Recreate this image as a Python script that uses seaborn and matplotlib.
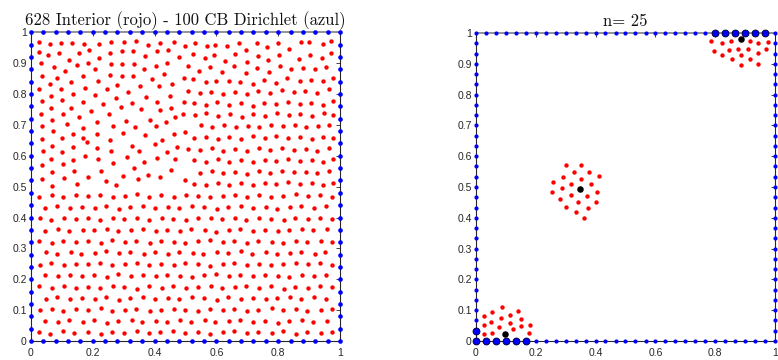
import matplotlib
matplotlib.use("Agg")
import matplotlib.pyplot as plt
import seaborn as sns
import pandas as pd

# ---------------- data ----------------
title_left = "628 Interior (rojo) - 100 CB Dirichlet (azul)"
title_right = "n= 25"
xticks = [0, 0.2, 0.4, 0.6, 0.8, 1]
xtick_labels = ["0", "0.2", "0.4", "0.6", "0.8", "1"]
yticks = [0, 0.1, 0.2, 0.3, 0.4, 0.5, 0.6, 0.7, 0.8, 0.9, 1]
ytick_labels = ["0", "0.1", "0.2", "0.3", "0.4", "0.5", "0.6", "0.7", "0.8", "0.9", "1"]

# boundary nodes (left panel: 25 intervals per side, right panel: 30)
bnd_left = [0.00, 0.04, 0.08, 0.12, 0.16, 0.20, 0.24, 0.28, 0.32, 0.36, 0.40, 0.44, 0.48,
            0.52, 0.56, 0.60, 0.64, 0.68, 0.72, 0.76, 0.80, 0.84, 0.88, 0.92, 0.96, 1.00]
bnd_right = [0.000, 0.033, 0.067, 0.100, 0.133, 0.167, 0.200, 0.233, 0.267, 0.300, 0.333,
             0.367, 0.400, 0.433, 0.467, 0.500, 0.533, 0.567, 0.600, 0.633, 0.667, 0.700,
             0.733, 0.767, 0.800, 0.833, 0.867, 0.900, 0.933, 0.967, 1.000]

# interior nodes, upper-left part
pts_upper_left = [
    (0.026, 0.967), (0.063, 0.962), (0.098, 0.964), (0.134, 0.966), (0.172, 0.963), (0.220, 0.961),
    (0.258, 0.970), (0.300, 0.969), (0.340, 0.971), (0.379, 0.958), (0.416, 0.966), (0.463, 0.969),
    (0.497, 0.955),
    (0.026, 0.935), (0.056, 0.927), (0.092, 0.932), (0.155, 0.932), (0.189, 0.942), (0.221, 0.918),
    (0.257, 0.933), (0.296, 0.939), (0.331, 0.941), (0.370, 0.923), (0.408, 0.940), (0.442, 0.944),
    (0.479, 0.919),
    (0.033, 0.899), (0.073, 0.888), (0.123, 0.910), (0.111, 0.875), (0.150, 0.893), (0.185, 0.901),
    (0.208, 0.880), (0.258, 0.897), (0.296, 0.896), (0.333, 0.898), (0.366, 0.882), (0.404, 0.892),
    (0.440, 0.902),
    (0.036, 0.858), (0.085, 0.851), (0.128, 0.838), (0.167, 0.859), (0.217, 0.842), (0.257, 0.862),
    (0.295, 0.857), (0.329, 0.858), (0.392, 0.850), (0.432, 0.865), (0.495, 0.853),
    (0.062, 0.832), (0.027, 0.815), (0.098, 0.815), (0.176, 0.820), (0.247, 0.817), (0.280, 0.828),
    (0.314, 0.808), (0.353, 0.827), (0.415, 0.825), (0.455, 0.832),
    (0.064, 0.794), (0.137, 0.800), (0.208, 0.796), (0.275, 0.788), (0.036, 0.776), (0.100, 0.781),
    (0.168, 0.774), (0.232, 0.767), (0.326, 0.770), (0.372, 0.791), (0.409, 0.774), (0.451, 0.794),
    (0.495, 0.774),
    (0.066, 0.756), (0.129, 0.755), (0.193, 0.745), (0.103, 0.736), (0.032, 0.734), (0.254, 0.734),
    (0.290, 0.757), (0.356, 0.752), (0.418, 0.748), (0.454, 0.756), (0.156, 0.724), (0.385, 0.715),
    (0.492, 0.735),
    (0.068, 0.715), (0.213, 0.709), (0.036, 0.698), (0.118, 0.704), (0.169, 0.689), (0.266, 0.695),
    (0.307, 0.714), (0.338, 0.694), (0.406, 0.697), (0.436, 0.708), (0.467, 0.725),
    (0.070, 0.680), (0.136, 0.670), (0.215, 0.670), (0.255, 0.651), (0.298, 0.675), (0.369, 0.666),
    (0.425, 0.651), (0.463, 0.671), (0.497, 0.677), (0.036, 0.654), (0.099, 0.656), (0.170, 0.656),
    (0.069, 0.633), (0.136, 0.629), (0.181, 0.645), (0.038, 0.615), (0.100, 0.612), (0.214, 0.626),
    (0.260, 0.614), (0.327, 0.633), (0.351, 0.617), (0.401, 0.639), (0.439, 0.613), (0.472, 0.630),
    (0.065, 0.589), (0.137, 0.586), (0.216, 0.590), (0.174, 0.600), (0.310, 0.595), (0.103, 0.572),
    (0.037, 0.571), (0.264, 0.577), (0.367, 0.581), (0.409, 0.593), (0.467, 0.591), (0.226, 0.551),
    (0.335, 0.560),
    (0.069, 0.548), (0.139, 0.550), (0.186, 0.530), (0.107, 0.529), (0.036, 0.525), (0.244, 0.517),
    (0.299, 0.535), (0.346, 0.524), (0.378, 0.538), (0.418, 0.530), (0.452, 0.553), (0.498, 0.523),
    (0.275, 0.505), (0.148, 0.509), (0.068, 0.503),
]

# interior nodes, upper-right part (rows from top)
upper_right_x = [
    [0.531, 0.569, 0.597, 0.635, 0.672, 0.697, 0.731, 0.765, 0.800, 0.835, 0.873, 0.901, 0.944, 0.971],
    [0.523, 0.562, 0.592, 0.627, 0.659, 0.698, 0.734, 0.768, 0.803, 0.867, 0.903, 0.941, 0.971],
    [0.509, 0.545, 0.578, 0.617, 0.657, 0.695, 0.733, 0.770, 0.806, 0.842, 0.880, 0.918, 0.955],
    [0.525, 0.566, 0.600, 0.642, 0.678, 0.718, 0.754, 0.793, 0.830, 0.870, 0.906, 0.946, 0.977],
    [0.508, 0.546, 0.584, 0.622, 0.660, 0.698, 0.736, 0.774, 0.812, 0.850, 0.888, 0.926, 0.964],
    [0.527, 0.565, 0.603, 0.641, 0.679, 0.717, 0.755, 0.793, 0.831, 0.869, 0.907, 0.945, 0.978],
    [0.530, 0.568, 0.606, 0.644, 0.682, 0.720, 0.758, 0.796, 0.834, 0.872, 0.910, 0.948, 0.979],
    [0.549, 0.587, 0.625, 0.663, 0.701, 0.739, 0.777, 0.815, 0.853, 0.891, 0.929, 0.966],
    [0.527, 0.566, 0.604, 0.642, 0.680, 0.718, 0.756, 0.794, 0.832, 0.870, 0.908, 0.946, 0.978],
    [0.508, 0.547, 0.585, 0.623, 0.661, 0.699, 0.737, 0.775, 0.813, 0.851, 0.889, 0.927, 0.964],
    [0.528, 0.565, 0.604, 0.641, 0.680, 0.717, 0.756, 0.793, 0.832, 0.869, 0.908, 0.945, 0.977],
    [0.547, 0.585, 0.623, 0.661, 0.699, 0.737, 0.775, 0.813, 0.851, 0.889, 0.927, 0.965],
    [0.528, 0.566, 0.604, 0.642, 0.680, 0.718, 0.756, 0.794, 0.832, 0.870, 0.908, 0.946, 0.978],
]
upper_right_y = [
    [0.964, 0.957, 0.960, 0.956, 0.965, 0.944, 0.964, 0.951, 0.965, 0.946, 0.967, 0.967, 0.961, 0.972],
    [0.929, 0.918, 0.927, 0.907, 0.929, 0.905, 0.924, 0.909, 0.927, 0.914, 0.925, 0.918, 0.932],
    [0.891, 0.875, 0.887, 0.872, 0.891, 0.868, 0.885, 0.872, 0.892, 0.880, 0.885, 0.880, 0.889],
    [0.848, 0.840, 0.843, 0.842, 0.838, 0.832, 0.846, 0.836, 0.851, 0.843, 0.846, 0.842, 0.853],
    [0.809, 0.803, 0.808, 0.801, 0.806, 0.799, 0.809, 0.804, 0.813, 0.806, 0.809, 0.804, 0.815],
    [0.771, 0.766, 0.773, 0.764, 0.770, 0.762, 0.772, 0.767, 0.775, 0.768, 0.771, 0.766, 0.777],
    [0.731, 0.737, 0.729, 0.735, 0.727, 0.736, 0.730, 0.738, 0.732, 0.735, 0.729, 0.739, 0.733],
    [0.699, 0.694, 0.700, 0.692, 0.698, 0.693, 0.701, 0.695, 0.699, 0.692, 0.697, 0.700],
    [0.657, 0.662, 0.655, 0.661, 0.654, 0.663, 0.658, 0.664, 0.656, 0.660, 0.653, 0.661, 0.658],
    [0.622, 0.619, 0.625, 0.617, 0.623, 0.616, 0.624, 0.618, 0.626, 0.620, 0.623, 0.617, 0.625],
    [0.585, 0.581, 0.588, 0.580, 0.586, 0.579, 0.587, 0.582, 0.589, 0.583, 0.586, 0.580, 0.588],
    [0.544, 0.551, 0.543, 0.549, 0.542, 0.550, 0.545, 0.552, 0.546, 0.549, 0.543, 0.551],
    [0.510, 0.506, 0.513, 0.505, 0.511, 0.504, 0.512, 0.507, 0.514, 0.508, 0.511, 0.505, 0.513],
]

# interior nodes, lower half (rows from bottom, full width)
lower_x = [
    [0.027, 0.063, 0.104, 0.140, 0.183, 0.226, 0.262, 0.300, 0.344, 0.381, 0.418, 0.460, 0.498,
     0.541, 0.578, 0.622, 0.657, 0.700, 0.735, 0.779, 0.815, 0.858, 0.893, 0.937, 0.974],
    [0.045, 0.088, 0.124, 0.167, 0.203, 0.246, 0.281, 0.326, 0.360, 0.404, 0.439, 0.483,
     0.519, 0.562, 0.597, 0.641, 0.676, 0.720, 0.756, 0.799, 0.834, 0.878, 0.913, 0.957],
    [0.028, 0.068, 0.105, 0.147, 0.184, 0.226, 0.263, 0.305, 0.341, 0.384, 0.420, 0.463, 0.500,
     0.542, 0.579, 0.621, 0.657, 0.700, 0.736, 0.779, 0.816, 0.858, 0.894, 0.937, 0.973],
    [0.048, 0.085, 0.127, 0.164, 0.206, 0.243, 0.285, 0.322, 0.364, 0.401, 0.443, 0.480,
     0.522, 0.559, 0.601, 0.638, 0.680, 0.717, 0.759, 0.796, 0.838, 0.875, 0.917, 0.954],
    [0.027, 0.067, 0.107, 0.145, 0.186, 0.224, 0.265, 0.302, 0.344, 0.382, 0.423, 0.460, 0.502,
     0.539, 0.581, 0.618, 0.660, 0.697, 0.739, 0.776, 0.818, 0.855, 0.897, 0.934, 0.975],
    [0.046, 0.087, 0.125, 0.166, 0.204, 0.245, 0.283, 0.324, 0.362, 0.403, 0.441, 0.482,
     0.520, 0.561, 0.599, 0.640, 0.678, 0.719, 0.757, 0.798, 0.836, 0.877, 0.915, 0.956],
    [0.028, 0.065, 0.106, 0.146, 0.184, 0.225, 0.263, 0.304, 0.342, 0.383, 0.421, 0.462, 0.500,
     0.541, 0.579, 0.620, 0.658, 0.699, 0.737, 0.778, 0.816, 0.857, 0.895, 0.936, 0.974],
    [0.049, 0.084, 0.128, 0.163, 0.207, 0.242, 0.286, 0.321, 0.365, 0.400, 0.444, 0.479,
     0.523, 0.558, 0.602, 0.637, 0.681, 0.716, 0.760, 0.795, 0.839, 0.874, 0.918, 0.953],
    [0.026, 0.068, 0.104, 0.147, 0.183, 0.226, 0.262, 0.305, 0.341, 0.384, 0.420, 0.463, 0.499,
     0.542, 0.578, 0.621, 0.657, 0.700, 0.736, 0.779, 0.815, 0.858, 0.894, 0.937, 0.975],
    [0.045, 0.088, 0.124, 0.167, 0.203, 0.246, 0.282, 0.325, 0.361, 0.404, 0.440, 0.483,
     0.519, 0.562, 0.598, 0.641, 0.677, 0.720, 0.756, 0.799, 0.835, 0.878, 0.914, 0.957],
    [0.028, 0.066, 0.107, 0.145, 0.186, 0.224, 0.265, 0.302, 0.344, 0.381, 0.423, 0.460, 0.502,
     0.539, 0.581, 0.618, 0.660, 0.697, 0.739, 0.776, 0.818, 0.855, 0.897, 0.934, 0.974],
    [0.047, 0.085, 0.127, 0.164, 0.206, 0.243, 0.285, 0.322, 0.364, 0.401, 0.443, 0.480,
     0.522, 0.559, 0.601, 0.638, 0.680, 0.717, 0.759, 0.796, 0.838, 0.875, 0.917, 0.954],
    [0.027, 0.067, 0.105, 0.146, 0.185, 0.225, 0.264, 0.304, 0.342, 0.383, 0.421, 0.462, 0.501,
     0.541, 0.579, 0.620, 0.659, 0.699, 0.737, 0.778, 0.817, 0.857, 0.895, 0.936, 0.975],
]
lower_y = [
    [0.028, 0.024, 0.031, 0.026, 0.029, 0.024, 0.030, 0.027, 0.033, 0.025, 0.029, 0.031, 0.026,
     0.030, 0.024, 0.028, 0.032, 0.025, 0.029, 0.027, 0.031, 0.024, 0.029, 0.026, 0.030],
    [0.066, 0.060, 0.068, 0.062, 0.067, 0.059, 0.065, 0.069, 0.061, 0.066, 0.060, 0.068,
     0.063, 0.067, 0.060, 0.065, 0.069, 0.062, 0.066, 0.059, 0.064, 0.068, 0.061, 0.066],
    [0.099, 0.104, 0.097, 0.103, 0.100, 0.106, 0.098, 0.102, 0.105, 0.097, 0.101, 0.104, 0.099,
     0.096, 0.103, 0.100, 0.105, 0.098, 0.102, 0.106, 0.099, 0.103, 0.097, 0.101, 0.104],
    [0.136, 0.141, 0.135, 0.140, 0.137, 0.142, 0.134, 0.139, 0.143, 0.136, 0.140, 0.135,
     0.141, 0.138, 0.134, 0.142, 0.137, 0.140, 0.135, 0.139, 0.143, 0.136, 0.141, 0.137],
    [0.177, 0.172, 0.178, 0.173, 0.176, 0.171, 0.179, 0.174, 0.170, 0.177, 0.173, 0.178, 0.172,
     0.176, 0.179, 0.171, 0.175, 0.178, 0.173, 0.177, 0.170, 0.176, 0.173, 0.179, 0.174],
    [0.214, 0.209, 0.215, 0.210, 0.213, 0.208, 0.216, 0.211, 0.214, 0.209, 0.215, 0.212,
     0.207, 0.213, 0.216, 0.210, 0.214, 0.209, 0.215, 0.211, 0.208, 0.214, 0.210, 0.215],
    [0.247, 0.252, 0.246, 0.251, 0.248, 0.253, 0.245, 0.250, 0.254, 0.247, 0.251, 0.246, 0.252,
     0.249, 0.244, 0.250, 0.253, 0.247, 0.251, 0.245, 0.250, 0.254, 0.248, 0.252, 0.246],
    [0.287, 0.283, 0.289, 0.282, 0.286, 0.290, 0.284, 0.288, 0.281, 0.287, 0.283, 0.289,
     0.285, 0.282, 0.288, 0.284, 0.290, 0.283, 0.287, 0.281, 0.286, 0.289, 0.283, 0.288],
    [0.324, 0.319, 0.325, 0.320, 0.323, 0.318, 0.326, 0.321, 0.324, 0.319, 0.325, 0.322, 0.317,
     0.323, 0.326, 0.320, 0.324, 0.319, 0.325, 0.321, 0.318, 0.324, 0.320, 0.325, 0.322],
    [0.357, 0.362, 0.356, 0.361, 0.358, 0.363, 0.355, 0.360, 0.364, 0.357, 0.361, 0.356,
     0.362, 0.359, 0.354, 0.360, 0.363, 0.357, 0.361, 0.355, 0.360, 0.364, 0.358, 0.362],
    [0.398, 0.393, 0.399, 0.394, 0.397, 0.392, 0.400, 0.395, 0.398, 0.393, 0.399, 0.396, 0.391,
     0.397, 0.400, 0.394, 0.398, 0.393, 0.399, 0.395, 0.392, 0.398, 0.394, 0.399, 0.396],
    [0.431, 0.436, 0.430, 0.435, 0.432, 0.437, 0.429, 0.434, 0.438, 0.431, 0.435, 0.430,
     0.436, 0.433, 0.428, 0.434, 0.437, 0.431, 0.435, 0.429, 0.434, 0.438, 0.432, 0.436],
    [0.468, 0.473, 0.467, 0.472, 0.469, 0.474, 0.466, 0.471, 0.475, 0.468, 0.472, 0.467, 0.473,
     0.470, 0.465, 0.471, 0.474, 0.468, 0.472, 0.466, 0.471, 0.475, 0.469, 0.473, 0.467],
]

# right panel: local clusters (red), centres (black), highlighted boundary nodes
cluster_x = [0.028, 0.055, 0.086, 0.113, 0.140, 0.026, 0.051, 0.084, 0.115, 0.149, 0.078, 0.125,
             0.152, 0.182, 0.027, 0.054, 0.176,
             0.301, 0.350, 0.327, 0.379, 0.291, 0.352, 0.411, 0.258, 0.318, 0.384, 0.288,
             0.253, 0.317, 0.370, 0.404, 0.282, 0.342, 0.402, 0.301, 0.376, 0.333, 0.362,
             0.786, 0.823, 0.853, 0.917, 0.944, 0.978, 0.795, 0.823, 0.845, 0.877, 0.885,
             0.910, 0.943, 0.970, 0.855, 0.916, 0.886, 0.944]
cluster_y = [0.081, 0.093, 0.109, 0.085, 0.098, 0.051, 0.062, 0.075, 0.059, 0.072, 0.046, 0.038,
             0.049, 0.053, 0.022, 0.025, 0.027,
             0.570, 0.572, 0.548, 0.548, 0.531, 0.527, 0.535, 0.515, 0.511, 0.511, 0.496,
             0.483, 0.473, 0.470, 0.485, 0.462, 0.450, 0.451, 0.435, 0.432, 0.418, 0.400,
             0.973, 0.969, 0.975, 0.973, 0.968, 0.972, 0.942, 0.929, 0.944, 0.949, 0.928,
             0.947, 0.936, 0.947, 0.916, 0.915, 0.897, 0.900]
centre_x = [0.096, 0.347, 0.887]
centre_y = [0.024, 0.494, 0.980]
big_bottom_x = [0.000, 0.033, 0.067, 0.100, 0.133, 0.167]
big_left_y = [0.033]
big_top_x = [0.800, 0.833, 0.867, 0.900, 0.933, 0.967]

# ---------------- frames ----------------
def boundary_frame(vals):
    xs, ys = [], []
    for v in vals:
        xs += [v, v, 0.0, 1.0]
        ys += [0.0, 1.0, v, v]
    return pd.DataFrame({"x": xs, "y": ys}).drop_duplicates()

ix, iy = [p[0] for p in pts_upper_left], [p[1] for p in pts_upper_left]
for rx, ry in zip(upper_right_x, upper_right_y):
    ix += rx; iy += ry
for rx, ry in zip(lower_x, lower_y):
    ix += rx; iy += ry
interior = pd.DataFrame({"x": ix, "y": iy})
left_bnd = boundary_frame(bnd_left)
right_bnd = boundary_frame(bnd_right)
big = pd.DataFrame({"x": big_bottom_x + [0.0] * len(big_left_y) + big_top_x,
                    "y": [0.0] * len(big_bottom_x) + big_left_y + [1.0] * len(big_top_x)})
clusters = pd.DataFrame({"x": cluster_x, "y": cluster_y})
centres = pd.DataFrame({"x": centre_x, "y": centre_y})

# ---------------- figure ----------------
sns.set_theme(style="white")
plt.rcParams["font.family"] = ["Liberation Sans", "DejaVu Sans"]

fig = plt.figure(figsize=(7.78, 3.6), dpi=100)
ax1 = fig.add_axes([0.0398, 0.0528, 0.3972, 0.8575])
ax2 = fig.add_axes([0.6118, 0.0528, 0.3843, 0.8556])

RED, BLUE = "#ff0000", "#0000ff"

sns.scatterplot(data=interior, x="x", y="y", ax=ax1, color=RED, s=10, linewidth=0,
                clip_on=False, zorder=3)
sns.scatterplot(data=left_bnd, x="x", y="y", ax=ax1, color=BLUE, s=11, linewidth=0,
                clip_on=False, zorder=4)

sns.scatterplot(data=right_bnd, x="x", y="y", ax=ax2, color=BLUE, s=9, linewidth=0,
                clip_on=False, zorder=4)
sns.scatterplot(data=big, x="x", y="y", ax=ax2, color=BLUE, s=24, edgecolor="#00003a",
                linewidth=0.7, clip_on=False, zorder=5)
sns.scatterplot(data=clusters, x="x", y="y", ax=ax2, color=RED, s=10, linewidth=0,
                clip_on=False, zorder=3)
sns.scatterplot(data=centres, x="x", y="y", ax=ax2, color="black", s=22, linewidth=0,
                clip_on=False, zorder=6)

for ax, title in ((ax1, title_left), (ax2, title_right)):
    ax.set_xlim(0, 1)
    ax.set_ylim(0, 1)
    ax.set_xticks(xticks)
    ax.set_xticklabels(xtick_labels)
    ax.set_yticks(yticks)
    ax.set_yticklabels(ytick_labels)
    ax.set_xlabel("")
    ax.set_ylabel("")
    ax.tick_params(direction="in", length=3, width=0.6, colors="#262626", labelsize=7.5,
                   top=True, right=True, pad=3)
    ax.tick_params(axis="x", pad=5)
    for side in ("left", "bottom", "right"):
        ax.spines[side].set_color("#262626")
        ax.spines[side].set_linewidth(0.8)
    ax.spines["top"].set_color("#8a8a8a")
    ax.spines["top"].set_linewidth(1.3)
    ax.set_title(title, fontfamily="cmr10", fontsize=12, pad=5, color="#111111")
    ax.grid(False)
    ax.set_facecolor("white")

fig.savefig("out.png", dpi=100, facecolor="white")
